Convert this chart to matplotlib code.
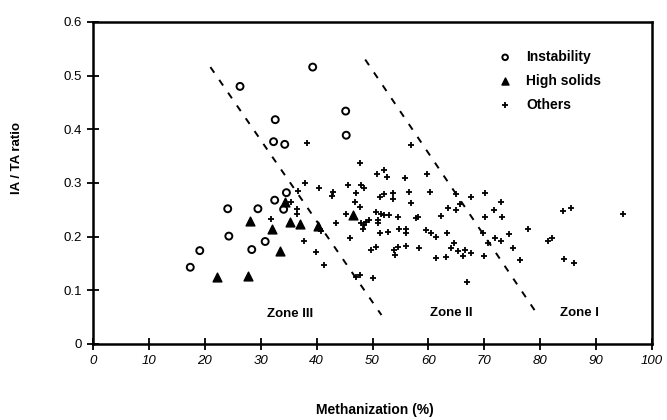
import matplotlib
matplotlib.use("Agg")
import matplotlib.pyplot as plt

plt.rcParams['font.family'] = ['Liberation Sans', 'DejaVu Sans']

# ---- data ----
inst_x = [17.4, 19.1, 24.1, 24.3, 26.3, 28.4, 29.5, 30.8, 32.5, 32.6, 32.3, 34.3, 34.6, 34.1, 39.3, 45.2, 45.3]
inst_y = [0.143, 0.174, 0.252, 0.201, 0.480, 0.176, 0.252, 0.191, 0.268, 0.418, 0.377, 0.372, 0.282, 0.251, 0.516, 0.434, 0.389]

hs_x = [22.1, 27.8, 28.1, 32.1, 33.4, 34.3, 35.3, 37.1, 40.2, 46.5]
hs_y = [0.125, 0.126, 0.229, 0.214, 0.173, 0.265, 0.228, 0.223, 0.220, 0.240]

oth_x = [38.2, 38.0, 36.6, 40.5, 42.9, 42.8, 45.7, 47.8, 47.1, 50.8, 52.1, 52.6, 55.9, 59.8, 56.8,
         48.0, 48.4, 52.0, 53.6, 56.5, 60.2, 65.0, 67.7, 70.2, 51.3, 53.6, 72.9, 46.8, 47.7, 56.9,
         65.7, 63.5, 64.9, 71.7, 45.3, 50.7, 52.1, 52.9, 54.5, 57.8, 58.2, 62.3, 70.2, 73.2, 84.0,
         85.5, 94.8, 43.4, 48.0, 48.9, 48.3, 50.9, 51.3, 52.7, 54.7, 56.0, 56.0, 59.6, 60.5, 61.4,
         63.3, 64.5, 69.7, 70.6, 72.0, 72.9, 74.5, 77.8, 81.4, 82.1, 46.0, 49.8, 50.7, 53.8, 54.5,
         56.0, 54.1, 58.3, 61.3, 63.2, 64.1, 65.3, 66.5, 66.2, 67.7, 70.0, 75.1, 76.3, 84.3, 86.0,
         47.1, 47.8, 50.1, 66.9, 35.4, 36.5, 36.5, 31.8, 37.8, 39.9, 41.4, 40.7, 48.5, 51.0, 51.6,
         40.6, 49.3]
oth_y = [0.375, 0.300, 0.285, 0.291, 0.284, 0.275, 0.297, 0.337, 0.281, 0.317, 0.324, 0.312, 0.310, 0.317, 0.371,
         0.296, 0.290, 0.279, 0.282, 0.284, 0.284, 0.280, 0.274, 0.282, 0.273, 0.271, 0.265, 0.265, 0.256, 0.263,
         0.261, 0.254, 0.250, 0.250, 0.242, 0.246, 0.240, 0.240, 0.236, 0.234, 0.237, 0.238, 0.237, 0.237, 0.248,
         0.254, 0.242, 0.225, 0.225, 0.228, 0.215, 0.231, 0.206, 0.209, 0.214, 0.215, 0.206, 0.212, 0.207, 0.199,
         0.206, 0.189, 0.206, 0.188, 0.197, 0.191, 0.205, 0.214, 0.192, 0.197, 0.197, 0.176, 0.181, 0.176, 0.181,
         0.182, 0.166, 0.179, 0.160, 0.163, 0.178, 0.173, 0.175, 0.164, 0.170, 0.164, 0.179, 0.156, 0.158, 0.151,
         0.125, 0.128, 0.123, 0.115, 0.265, 0.251, 0.243, 0.233, 0.192, 0.172, 0.147, 0.210, 0.222, 0.226, 0.243,
         0.215, 0.231]

zone1_x = [21.0, 51.6]
zone1_y = [0.516, 0.054]
zone2_x = [48.7, 79.0]
zone2_y = [0.530, 0.063]

zone_labels = ["Zone III", "Zone II", "Zone I"]
zone_label_x = [35.2, 64.1, 87.0]
zone_label_y = [0.055, 0.057, 0.058]

x_ticks = [0, 10, 20, 30, 40, 50, 60, 70, 80, 90, 100]
y_ticks = [0, 0.1, 0.2, 0.3, 0.4, 0.5, 0.6]
y_tick_labels = ["0", "0.1", "0.2", "0.3", "0.4", "0.5", "0.6"]

# ---- figure ----
fig = plt.figure(figsize=(6.67, 4.2), dpi=100)
ax = fig.add_axes([93/667, 1-344/420, (652-93)/667, (344-22)/420])

ax.scatter(inst_x, inst_y, s=25, facecolors='none', edgecolors='black', linewidths=1.4,
           marker='o', label='Instability', zorder=3)
ax.scatter(hs_x, hs_y, s=40, c='black', marker='^', label='High solids', zorder=3)
ax.scatter(oth_x, oth_y, s=22, c='black', marker='+', linewidths=1.3, label='Others', zorder=3)

for lx, ly in [(zone1_x, zone1_y), (zone2_x, zone2_y)]:
    ax.plot(lx, ly, color='black', lw=1.4, linestyle=(0, (3.5, 4.5)), zorder=2)

for t, x, y in zip(zone_labels, zone_label_x, zone_label_y):
    ax.text(x, y, t, ha='center', va='center', fontsize=9.5, fontweight='bold')

ax.set_xlim(0, 100)
ax.set_ylim(0, 0.6)
ax.set_xticks(x_ticks)
ax.set_xticklabels([str(v) for v in x_ticks], fontstyle='italic', fontsize=9.5)
ax.set_yticks(y_ticks)
ax.set_yticklabels(y_tick_labels, fontsize=9.5)
ax.tick_params(direction='inout', length=8, width=1.3, pad=4)

for sp in ax.spines.values():
    sp.set_linewidth(1.8)

leg = ax.legend(loc='upper left', bbox_to_anchor=(0.70, 0.952), frameon=False,
                prop={'weight': 'bold', 'size': 10}, handletextpad=0.9,
                labelspacing=0.72, markerscale=0.8, handlelength=1.2)

fig.text(17/667, 1-158/420, "IA / TA ratio", rotation=90, ha='center', va='center',
         fontsize=9.5, fontweight='bold')
fig.text(375/667, 1-410/420, "Methanization (%)", ha='center', va='center',
         fontsize=10, fontweight='bold')

fig.savefig("out.png", dpi=100)
